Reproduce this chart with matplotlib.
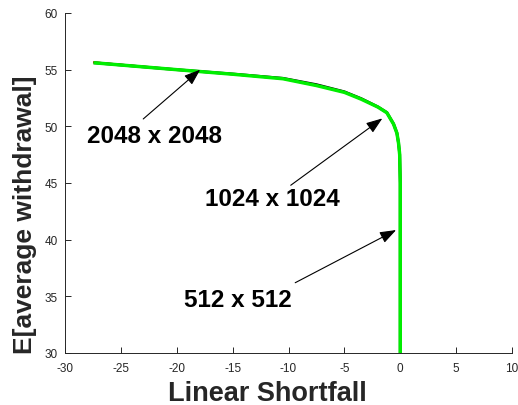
import matplotlib
matplotlib.use("Agg")
import matplotlib.pyplot as plt

plt.rcParams['font.family'] = ['Liberation Sans', 'DejaVu Sans']
plt.rcParams['axes.unicode_minus'] = False

# frontier data for three grid resolutions
x_512 = [-27.4, -20.0, -15.0, -10.5, -7.5, -5.0, -3.5, -2.0, -1.2, -0.6, -0.3, -0.15, -0.05, 0.0, 0.0]
y_512 = [55.65, 55.0, 54.6, 54.2, 53.6, 53.0, 52.4, 51.7, 51.2, 50.2, 49.4, 48.5, 47.5, 45.0, 30.0]
x_1024 = [-27.3, -20.0, -15.0, -10.5, -7.5, -5.0, -3.5, -2.0, -1.2, -0.6, -0.3, -0.15, -0.05, 0.0, 0.0]
y_1024 = [55.6, 55.0, 54.62, 54.24, 53.68, 53.05, 52.45, 51.72, 51.22, 50.22, 49.42, 48.5, 47.5, 45.0, 30.0]
x_2048 = [-27.3, -20.0, -15.0, -10.5, -7.5, -5.0, -3.5, -2.0, -1.2, -0.6, -0.3, -0.15, -0.05, 0.0, 0.0]
y_2048 = [55.6, 55.0, 54.6, 54.2, 53.6, 53.0, 52.4, 51.7, 51.2, 50.2, 49.4, 48.5, 47.5, 45.0, 30.0]

labels = ["512 x 512", "1024 x 1024", "2048 x 2048"]
xticks = [-30, -25, -20, -15, -10, -5, 0, 5, 10]
yticks = [30, 35, 40, 45, 50, 55, 60]

fig = plt.figure(figsize=(5.18, 4.06), dpi=100)
ax = fig.add_axes([65/518, 52/406, 447/518, 340/406])

ax.plot(x_512, y_512, color='red', lw=1.5)
ax.plot(x_1024, y_1024, color='black', lw=2.0)
ax.plot(x_2048, y_2048, color='#00ee00', lw=2.5)

ax.set_xlim(-30, 10)
ax.set_ylim(30, 60)
ax.set_xticks(xticks)
ax.set_yticks(yticks)
ax.tick_params(direction='in', length=4, labelsize=8.5, colors='#262626', width=0.7)
ax.tick_params(axis='x', pad=6.5)
ax.tick_params(axis='y', pad=5)
for s in ['top', 'right']:
    ax.spines[s].set_visible(False)
for s in ['left', 'bottom']:
    ax.spines[s].set_color('#262626')
    ax.spines[s].set_linewidth(0.7)

ax.set_xlabel("Linear Shortfall", fontsize=19.5, fontweight='bold', color='#262626')
ax.set_ylabel("E[average withdrawal]", fontsize=19, fontweight='bold', color='#262626')
ax.xaxis.set_label_coords(0.452, -0.078)
ax.yaxis.set_label_coords(-0.062, 0.41)

arrow = dict(arrowstyle='-|>,head_length=0.55,head_width=0.2', color='black', lw=0.8,
             mutation_scale=18, shrinkA=0, shrinkB=0)
ax.annotate("", xy=(-17.9, 55.0), xytext=(-23.0, 50.65), arrowprops=arrow)
ax.annotate("", xy=(-1.6, 50.7), xytext=(-9.8, 44.8), arrowprops=arrow)
ax.annotate("", xy=(-0.37, 40.85), xytext=(-9.4, 36.2), arrowprops=arrow)

ax.text(-21.95, 49.15, labels[2], fontsize=17.5, fontweight='bold', ha='center', va='center')
ax.text(-11.45, 43.6, labels[1], fontsize=17.5, fontweight='bold', ha='center', va='center')
ax.text(-14.5, 34.75, labels[0], fontsize=17.5, fontweight='bold', ha='center', va='center')

fig.savefig("out.png", dpi=100)
